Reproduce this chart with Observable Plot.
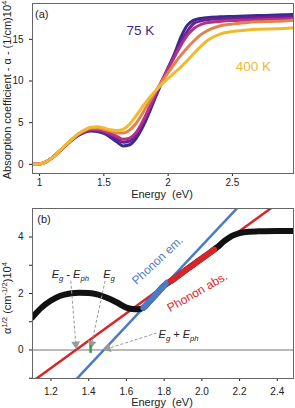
<!DOCTYPE html>
<html><head><meta charset="utf-8">
<script src="https://cdn.jsdelivr.net/npm/d3@7"></script>
<script src="https://cdn.jsdelivr.net/npm/@observablehq/plot@0.6"></script>
<style>
body{margin:0;background:#fff;font-family:"Liberation Sans",Arial,sans-serif}
svg{display:block}
</style>
</head><body><div id="chart"></div>
<script>
// ---------- Panel (a) data ----------
const energyA = [0.95,1.0,1.05,1.1,1.15,1.2,1.25,1.3,1.35,1.4,1.45,1.5,1.55,1.6,1.65,1.7,1.75,1.8,1.85,1.9,1.95,2.0,2.05,2.1,2.15,2.2,2.25,2.3,2.4,2.5,2.6,2.7,2.8,2.9,2.98];
const alphaT1 = [0,0.05,0.3,0.8,1.5,2.2,2.9,3.45,3.85,4.0,3.95,3.7,3.25,2.7,2.2,2.35,3.1,4.4,6.1,8.0,9.8,11.6,13.3,15.3,16.7,17.3,17.5,17.6,17.7,17.75,17.8,17.85,17.9,17.95,18.0];
const alphaT2 = [0,0.05,0.3,0.8,1.5,2.2,2.9,3.5,3.9,4.1,4.05,3.85,3.5,3.05,2.65,2.8,3.5,4.8,6.4,8.2,9.9,11.5,13.1,14.7,16.0,16.9,17.2,17.35,17.45,17.5,17.55,17.6,17.65,17.7,17.75];
const alphaT3 = [0,0.05,0.3,0.8,1.5,2.25,2.95,3.55,3.95,4.2,4.15,4.0,3.7,3.35,3.0,3.15,3.8,5.1,6.7,8.4,10.0,11.5,12.9,14.3,15.5,16.3,16.75,17.0,17.15,17.25,17.3,17.35,17.4,17.45,17.5];
const alphaT4 = [0,0.05,0.3,0.8,1.5,2.25,2.95,3.6,4.05,4.35,4.35,4.2,4.0,3.8,3.75,4.1,4.9,6.1,7.4,8.7,9.9,11.0,12.1,13.1,14.0,14.8,15.5,16.0,16.6,16.85,17.0,17.1,17.15,17.2,17.3];
const alphaT5 = [0,0.05,0.3,0.8,1.5,2.3,3.0,3.65,4.15,4.45,4.5,4.35,4.15,4.05,4.2,4.8,5.8,6.9,7.9,8.8,9.6,10.3,11.0,11.7,12.5,13.3,14.1,14.8,15.6,15.95,16.1,16.2,16.25,16.3,16.4];
const seriesA = [alphaT1, alphaT2, alphaT3, alphaT4, alphaT5];
const colorsA = ["#3a2a8c","#6c2196","#b23285","#e2824e","#f1b92e"];
const ticksAx = [1,1.5,2,2.5];
const ticksAy = [0,5,10,15];

// ---------- Panel (b) data ----------
const energyB = [1.10,1.15,1.2,1.25,1.3,1.35,1.4,1.45,1.5,1.55,1.6,1.63,1.66,1.69,1.72,1.76,1.80,1.84,1.9,1.95,2.0,2.05,2.08,2.12,2.16,2.2,2.25,2.3,2.4,2.49];
const sqrtAlpha = [1.15,1.5,1.75,1.92,2.0,2.03,2.02,1.96,1.84,1.68,1.5,1.45,1.44,1.49,1.70,1.99,2.28,2.46,2.755,3.0,3.24,3.48,3.63,3.86,4.04,4.14,4.19,4.2,4.21,4.21];
const absLineX = [1.10, 2.49];      // phonon absorption fit line
const absLineY = [-1.125, 5.62];
const emLineX = [1.30, 2.25];       // phonon emission fit line
const emLineY = [-1.28, 5.47];
const emSegX = [1.69, 1.815];       // fitted range (emission)
const emSegY = [1.491, 2.38];
const absSegX = [1.835, 2.065];     // fitted range (absorption)
const absSegY = [2.44, 3.555];
const egMark = 1.41;
const ticksBx = [1.2,1.4,1.6,1.8,2.0,2.2,2.4];
const ticksBy = [-1,0,1,2,3,4];
const arrowsB = [
  {x1:1.305, y1:2.45, x2:1.333, y2:0.10},
  {x1:1.487, y1:2.45, x2:1.412, y2:0.12},
  {x1:1.760, y1:0.60, x2:1.486, y2:0.02}
];

const FONT = "Liberation Sans, Arial, sans-serif";
const root = document.getElementById("chart");

// ---------- Panel (a) ----------
const plotA = Plot.plot({
  width: 295, height: 201,
  marginTop: 3, marginBottom: 28, marginLeft: 32, marginRight: 2,
  style: {fontFamily: FONT, fontSize: "10px", color: "#222", background: "#fff"},
  x: {domain: [0.945, 2.975], label: null},
  y: {domain: [-1.1, 19.3], label: null},
  marks: [
    Plot.axisX({ticks: ticksAx, tickSize: 3, tickPadding: 2, tickFormat: d => String(d)}),
    Plot.axisY({ticks: ticksAy, tickSize: 3}),
    ...seriesA.map((s, i) => Plot.line(s, {
      x: (d, j) => energyA[j], y: d => d,
      stroke: colorsA[i], strokeWidth: 3, curve: "monotone-x", clip: true
    })),
    Plot.text(["75 K"], {x: 1.784, y: 16.0, fill: colorsA[0], fontSize: 13.5}),
    Plot.text(["400 K"], {x: 2.663, y: 11.7, fill: "#efb735", fontSize: 13.5}),
    Plot.text(["(a)"], {x: 0.965, y: 18.0, textAnchor: "start", fill: "#222", fontSize: 11}),
    Plot.frame({stroke: "#666"})
  ]
});
root.appendChild(plotA);

// ---------- Panel (b) ----------
const xB = {domain: [1.102, 2.486], range: [32, 293]};
const yB = {domain: [-1.01, 5.01], range: [177, 7]};
const sx = Plot.scale({x: xB});
const sy = Plot.scale({y: yB});
const heads = arrowsB.map(a => {
  const dx = sx.apply(a.x2) - sx.apply(a.x1);
  const dy = sy.apply(a.y2) - sy.apply(a.y1);
  const L = Math.hypot(dx, dy);
  const back = 3;
  return {
    x: sx.invert(sx.apply(a.x2) - dx / L * back),
    y: sy.invert(sy.apply(a.y2) - dy / L * back),
    r: Math.atan2(dx, -dy) * 180 / Math.PI
  };
});

const plotB = Plot.plot({
  width: 295, height: 207,
  marginTop: 7, marginBottom: 30, marginLeft: 32, marginRight: 2,
  style: {fontFamily: FONT, fontSize: "10px", color: "#222", background: "#fff"},
  x: {domain: xB.domain, label: null},
  y: {domain: yB.domain, label: null},
  marks: [
    Plot.axisX({ticks: ticksBx, tickSize: 3, tickFormat: d3.format(".1f")}),
    Plot.axisY({ticks: ticksBy, tickSize: 3, tickFormat: d => (d % 2 === 0 && d >= 0) ? String(d) : ""}),
    Plot.ruleY([0], {stroke: "#777", strokeWidth: 1.2}),
    Plot.line(absLineX, {x: d => d, y: (d, i) => absLineY[i], stroke: "#d7262b", strokeWidth: 2.5, clip: true}),
    Plot.line(emLineX, {x: d => d, y: (d, i) => emLineY[i], stroke: "#4b7bc6", strokeWidth: 2.5, clip: true}),
    Plot.line(energyB, {x: d => d, y: (d, i) => sqrtAlpha[i], stroke: "#111", strokeWidth: 6, curve: "monotone-x", clip: true}),
    Plot.line(emSegX, {x: d => d, y: (d, i) => emSegY[i], stroke: "#4b7bc6", strokeWidth: 6}),
    Plot.line(absSegX, {x: d => d, y: (d, i) => absSegY[i], stroke: "#d7262b", strokeWidth: 6}),
    Plot.link(arrowsB, {x1: "x1", y1: "y1", x2: "x2", y2: "y2", stroke: "#9a9a9a", strokeWidth: 1, strokeDasharray: "3,2"}),
    Plot.dot(heads, {x: "x", y: "y", rotate: "r", symbol: "triangle", r: 3.3, fill: "#9a9a9a", stroke: "none"}),
    Plot.ruleX([egMark], {y1: -0.12, y2: 0.16, stroke: "#3c9a3c", strokeWidth: 2.5}),
    Plot.text(["Phonon em."], {x: 1.765, y: 3.17, rotate: -43, fill: "#4b7bc6", fontSize: 12}),
    Plot.text(["Phonon abs."], {x: 1.976, y: 2.05, rotate: -30, fill: "#d7262b", fontSize: 12}),
    Plot.text(["(b)"], {x: 1.127, y: 4.62, textAnchor: "start", fill: "#222", fontSize: 11}),
    Plot.frame({stroke: "#666"})
  ]
});
root.appendChild(plotB);

// ---------- rich-text labels (sub/superscripts) ----------
function richText(svg, x, y, parts, opts = {}) {
  const t = d3.select(svg).append("text")
    .attr("x", x).attr("y", y)
    .attr("font-family", FONT)
    .attr("font-size", opts.size || 11)
    .attr("fill", opts.fill || "#222")
    .attr("text-anchor", opts.anchor || "middle")
    .attr("font-style", opts.italic ? "italic" : null);
  if (opts.rotate) t.attr("transform", `rotate(${opts.rotate},${x},${y})`);
  let shift = 0;
  for (const p of parts) {
    const target = p.sub ? 3 : p.sup ? -4 : 0;
    const span = t.append("tspan").text(p.t).attr("dy", target - shift);
    if (p.sub || p.sup) span.attr("font-size", (opts.size || 11) * 0.7);
    shift = target;
  }
  return t;
}
const sxB = plotB.scale("x"), syB = plotB.scale("y");
const svgA = plotA, svgB = plotB;

richText(svgA, 162, 197.5, [{t: "Energy\u00A0 (eV)"}], {size: 11});
richText(svgA, 11, 90, [{t: "Absorption coefficient - \u03B1 - (1/cm)10"}, {t: "4", sup: true}], {size: 11, rotate: -90});

richText(svgB, 162, 205, [{t: "Energy\u00A0 (eV)"}], {size: 11});
richText(svgB, 11, 97, [{t: "\u03B1"}, {t: "1/2", sup: true}, {t: " (cm"}, {t: "-1/2", sup: true}, {t: ")10"}, {t: "4", sup: true}], {size: 11, rotate: -90});

richText(svgB, sxB.apply(1.305), syB.apply(2.69) + 4, [{t: "E"}, {t: "g", sub: true}, {t: " - E"}, {t: "ph", sub: true}], {size: 11, italic: true});
richText(svgB, sxB.apply(1.51), syB.apply(2.69) + 4, [{t: "E"}, {t: "g", sub: true}], {size: 11, italic: true});
richText(svgB, sxB.apply(1.773), syB.apply(0.55) + 4, [{t: "E"}, {t: "g", sub: true}, {t: " + E"}, {t: "ph", sub: true}], {size: 11, italic: true, anchor: "start"});
</script>
</body></html>
